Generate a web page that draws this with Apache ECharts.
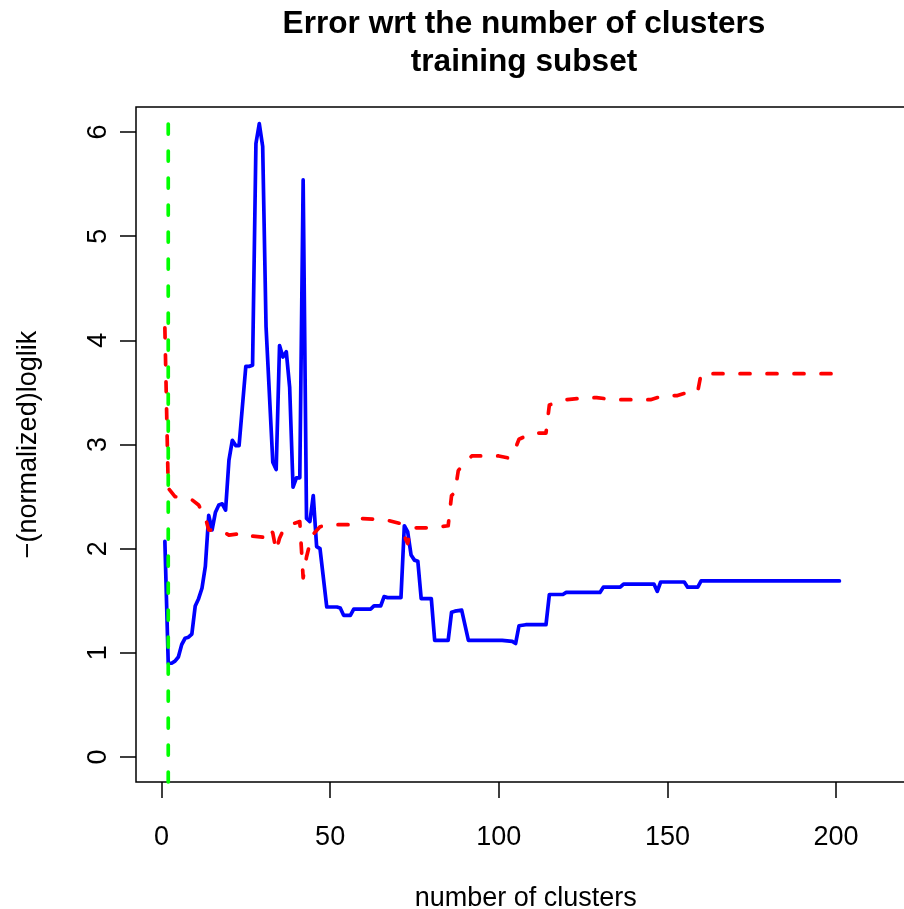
<!DOCTYPE html>
<html><head><meta charset="utf-8">
<script src="https://cdn.jsdelivr.net/npm/echarts@6/dist/echarts.min.js"></script>
<style>html,body{margin:0;padding:0;background:#fff}#c{width:904px;height:909px}</style>
</head><body><div id="c"></div>
<script>
const titleText = 'Error wrt the number of clusters\ntraining subset';
const xName = 'number of clusters';
const yName = '\u2212(normalized)loglik';
const xTicks = [0, 50, 100, 150, 200];
const yTicks = [0, 1, 2, 3, 4, 5, 6];

const blueX = [1,2,3,4,5,6,7,8,9,10,11,12,13,14,15,16,17,18,19,20,21,22,23,25,26,27,28,29,30,31,33,34,35,36,37,38,39,40,41,42,43,44,45,46,47,49,52,53,54,56,57,62,63,65,66,67,71,72,73,74,75,76,77,80,81,85,86,87,89,91,101,104,105,106,108,114,115,119,120,130,131,136,137,146,147,148,155,156,159,160,201];
const blueY = [2.07,0.90,0.90,0.92,0.96,1.08,1.14,1.15,1.18,1.45,1.52,1.62,1.83,2.32,2.18,2.35,2.42,2.43,2.37,2.85,3.04,2.99,2.99,3.75,3.75,3.76,5.89,6.08,5.86,4.13,2.83,2.76,3.95,3.84,3.89,3.55,2.59,2.68,2.68,5.54,2.29,2.26,2.51,2.02,2.00,1.44,1.44,1.43,1.36,1.36,1.42,1.42,1.45,1.45,1.54,1.53,1.53,2.22,2.16,1.94,1.89,1.88,1.52,1.52,1.12,1.12,1.39,1.40,1.41,1.12,1.12,1.11,1.09,1.26,1.27,1.27,1.56,1.56,1.58,1.58,1.63,1.63,1.66,1.66,1.59,1.68,1.68,1.63,1.63,1.69,1.69];

const redX = [1,2,4,9,11,13,14,17,18,20,25,27,30,32,33,34,35,36,39,41,42,43,44,45,47,49,56,58,66,71,72,73,74,80,85,86,87,88,89,92,100,103,105,106,110,114,115,118,120,126,129,134,145,149,153,156,159,160,201];
const redY = [4.12,2.58,2.50,2.47,2.42,2.30,2.18,2.17,2.17,2.13,2.15,2.12,2.11,2.20,2.15,1.98,2.10,2.17,2.24,2.26,1.72,1.92,2.05,2.14,2.21,2.23,2.23,2.29,2.28,2.24,2.12,2.05,2.20,2.20,2.22,2.51,2.54,2.75,2.79,2.89,2.89,2.87,2.97,3.05,3.11,3.11,3.38,3.41,3.43,3.45,3.45,3.43,3.43,3.47,3.47,3.50,3.51,3.68,3.68];

const greenX = [2, 2];
const greenY = [-0.5, 6.1];

const zip = (xs, ys) => xs.map((x, i) => [x, ys[i]]);
const FONT = 'Liberation Sans';

const chart = echarts.init(document.getElementById('c'), null, {renderer: 'canvas'});
chart.setOption({
  animation: false,
  backgroundColor: '#fff',
  title: {
    text: titleText,
    left: 524, top: 5, padding: 0, textAlign: 'center',
    textStyle: {fontFamily: FONT, fontSize: 31.6, fontWeight: 'bold', color: '#000', lineHeight: 38}
  },
  grid: {left: 136, top: 107, width: 779.5, height: 675, show: true, borderColor: '#000', borderWidth: 1.5,
         backgroundColor: 'transparent', containLabel: false, outerBoundsMode: 'none'},
  xAxis: {
    type: 'value', min: -7.56, max: 223.56,
    axisLine: {show: false, onZero: false},
    axisTick: {show: true, inside: false, length: 16, customValues: xTicks, lineStyle: {color: '#000', width: 1.5}},
    axisLabel: {customValues: xTicks, margin: 42, fontSize: 27, fontFamily: FONT, color: '#000'},
    splitLine: {show: false},
    name: xName, nameLocation: 'middle', nameGap: 103,
    nameTextStyle: {fontSize: 27, fontFamily: FONT, color: '#000'}
  },
  yAxis: {
    type: 'value', min: -0.24, max: 6.24,
    axisLine: {show: false, onZero: false},
    axisTick: {show: true, inside: false, length: 16, customValues: yTicks, lineStyle: {color: '#000', width: 1.5}},
    axisLabel: {customValues: yTicks, margin: 24, rotate: 90, fontSize: 27, fontFamily: FONT, color: '#000'},
    splitLine: {show: false},
    name: yName, nameLocation: 'middle', nameGap: 94, nameRotate: 90,
    nameTextStyle: {fontSize: 27, fontFamily: FONT, color: '#000'}
  },
  series: [
    {type: 'line', data: zip(blueX, blueY), showSymbol: false, symbol: 'none', clip: true,
     lineStyle: {color: '#0000ff', width: 3.7, cap: 'round', join: 'round'}},
    {type: 'line', data: zip(redX, redY), showSymbol: false, symbol: 'none', clip: true,
     lineStyle: {color: '#ff0000', width: 3.7, type: [10, 17], cap: 'round', join: 'round'}},
    {type: 'line', data: zip(greenX, greenY), showSymbol: false, symbol: 'none', clip: true,
     lineStyle: {color: '#00ff00', width: 3.7, type: [10, 17], cap: 'round', join: 'round'}}
  ]
});
</script></body></html>
